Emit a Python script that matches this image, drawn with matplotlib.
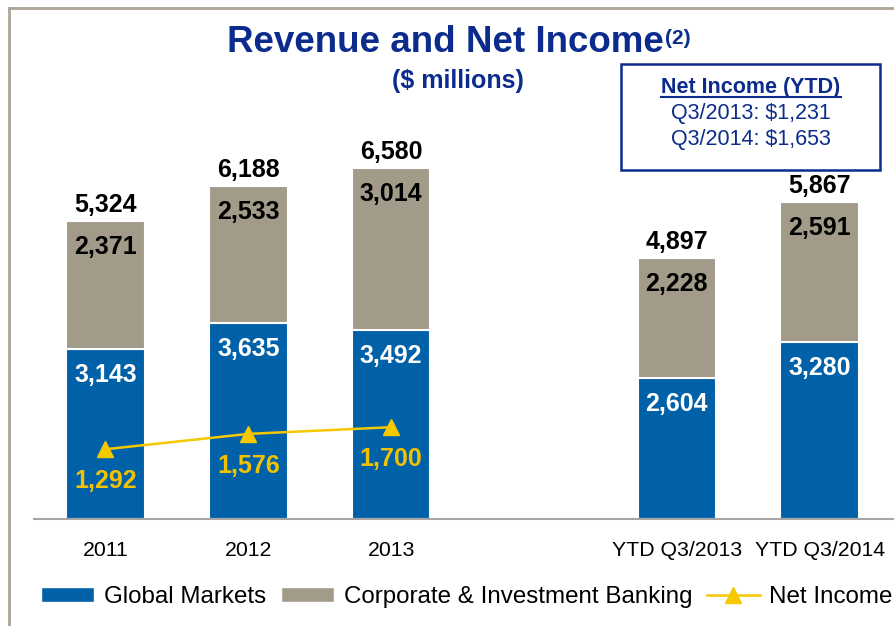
import numpy as np
import matplotlib.pyplot as plt
from matplotlib.lines import Line2D
from matplotlib.patches import Patch, Rectangle

plt.rcParams['font.family'] = ['Liberation Sans', 'DejaVu Sans']

# Data ($ millions)
periods = ['2011', '2012', '2013', 'YTD Q3/2013', 'YTD Q3/2014']
slots = [0, 1, 2, 4, 5]
global_markets = [3143, 3635, 3492, 2604, 3280]
corp_inv_banking = [2371, 2533, 3014, 2228, 2591]
revenue_totals = ['5,324', '6,188', '6,580', '4,897', '5,867']
net_income = [1292, 1576, 1700]
ytd_net_income = [('Q3/2013', '$1,231'), ('Q3/2014', '$1,653')]

blue = '#0061A9'
tan = '#A29B8A'
yellow = '#F5C800'
navy = '#0B2C8C'

fig = plt.figure(figsize=(8.94, 6.26), dpi=100)
ax = fig.add_axes([34 / 894, 107 / 626, 860 / 894, 378 / 626])

x = np.array(slots, dtype=float)
gm = np.array(global_markets)
cib = np.array(corp_inv_banking)

# Stacked bars
ax.bar(x, gm, width=0.55, color=blue, edgecolor='white', linewidth=1.5)
ax.bar(x, cib, width=0.55, bottom=gm, color=tan, edgecolor='white', linewidth=1.5)

# Segment labels near the top of each segment, totals above the stack
for xi, g, c, tot in zip(x, gm, cib, revenue_totals):
    ax.annotate(f'{g:,}', (xi, g), xytext=(0, -26), textcoords='offset pixels',
                ha='center', va='center', fontsize=18, fontweight='bold', color='white')
    ax.annotate(f'{c:,}', (xi, g + c), xytext=(0, -26), textcoords='offset pixels',
                ha='center', va='center', fontsize=18, fontweight='bold', color='black')
    ax.annotate(tot, (xi, g + c), xytext=(0, 4), textcoords='offset pixels',
                ha='center', va='bottom', fontsize=18, fontweight='bold', color='black')

# Net income line for the full years
ni_x = x[:len(net_income)]
ax.plot(ni_x, net_income, color=yellow, linewidth=1.8, marker='^', markersize=12)
for xi, v in zip(ni_x, net_income):
    ax.annotate(f'{v:,}', (xi, v), xytext=(0, -32), textcoords='offset pixels',
                ha='center', va='center', fontsize=18, fontweight='bold', color='#F2C200')

ax.set_xlim(-0.5, 5.52)
ax.set_ylim(0, 7000)
ax.set_xticks(x)
ax.set_xticklabels(periods, fontsize=15.3)
ax.tick_params(axis='x', length=0, pad=16)
ax.set_yticks([])
for side in ['left', 'right', 'top']:
    ax.spines[side].set_visible(False)
ax.spines['bottom'].set_color('#A6A6A6')
ax.spines['bottom'].set_linewidth(1.5)
ax.patch.set_visible(False)

# Title and subtitle
title = fig.text(445 / 894, 1 - 43 / 626, 'Revenue and Net Income', ha='center', va='center',
                 fontsize=26.5, fontweight='bold', color=navy)
fig.text(458 / 894, 1 - 81 / 626, '($ millions)', ha='center', va='center',
         fontsize=18, fontweight='bold', color=navy)

# YTD net income box
fig.patches.append(Rectangle((621 / 894, 1 - 170 / 626), 259 / 894, 106 / 626,
                             transform=fig.transFigure, fill=False,
                             edgecolor=navy, linewidth=1.8))
box_head = fig.text(751 / 894, 1 - 88 / 626, 'Net Income (YTD)', ha='center', va='center',
                    fontsize=15.5, fontweight='bold', color=navy)
for i, (q, v) in enumerate(ytd_net_income):
    fig.text(751 / 894, 1 - (114 + 26 * i) / 626, f'{q}: {v}', ha='center', va='center',
             fontsize=15.5, color=navy)

# Frame lines along the top and left edge
fig.add_artist(Line2D([9 / 894, 1], [1 - 8 / 626, 1 - 8 / 626], transform=fig.transFigure,
                      color='#ADA595', linewidth=2))
fig.add_artist(Line2D([9 / 894, 9 / 894], [0, 1 - 8 / 626], transform=fig.transFigure,
                      color='#ADA595', linewidth=2))

# Legend
handles = [Patch(facecolor=blue, edgecolor='white'),
           Patch(facecolor=tan, edgecolor='white'),
           Line2D([], [], color=yellow, linewidth=1.8, marker='^', markersize=11)]
labels = ['Global Markets', 'Corporate & Investment Banking', 'Net Income']
fig.legend(handles, labels, loc='center', bbox_to_anchor=(467 / 894, 29 / 626), ncol=3,
           frameon=False, fontsize=17.4, handlelength=2.2, handleheight=0.55,
           handletextpad=0.4, columnspacing=0.6, borderpad=0)

# Superscript after the title and underline under the box heading
fig.canvas.draw()
renderer = fig.canvas.get_renderer()
inv = fig.transFigure.inverted()
tb = title.get_window_extent(renderer)
fig.text(inv.transform((tb.x1 + 2, 0))[0], 1 - 39 / 626, '(2)', ha='left', va='center',
         fontsize=15, fontweight='bold', color=navy)
hb = box_head.get_window_extent(renderer)
(ux0, uy), (ux1, _) = inv.transform([(hb.x0, hb.y0 + 2), (hb.x1, hb.y0 + 2)])
fig.add_artist(Line2D([ux0, ux1], [uy, uy], transform=fig.transFigure, color=navy, linewidth=1.5))

plt.savefig('out.png', dpi=100)
